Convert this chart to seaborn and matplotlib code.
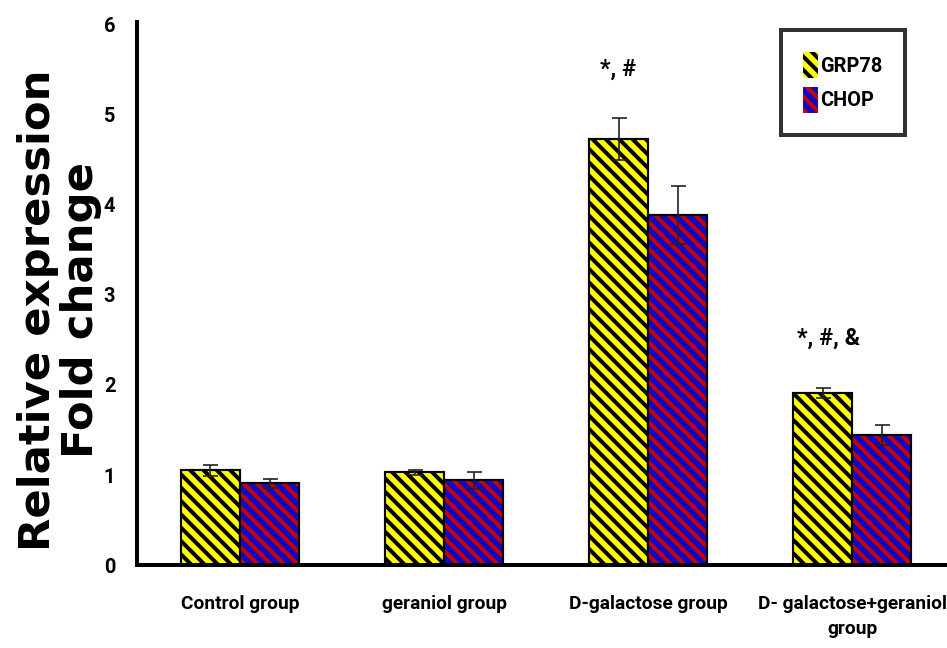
import pandas as pd
import matplotlib
matplotlib.use("Agg")
import matplotlib.pyplot as plt
import seaborn as sns
from matplotlib.patches import Patch
from matplotlib.colors import to_rgba

groups = ["Control group", "geraniol group", "D-galactose group", "D- galactose+geraniol\ngroup"]
genes = ["GRP78", "CHOP"]
grp78_mean = [1.05, 1.03, 4.73, 1.91]
grp78_err = [0.06, 0.03, 0.23, 0.06]
chop_mean = [0.91, 0.94, 3.89, 1.44]
chop_err = [0.05, 0.09, 0.32, 0.11]
marks = ["", "", "*, #", "*, #, &"]

face_colors = {"GRP78": "#FFFF00", "CHOP": "#0A0AC8"}
hatch_colors = {"GRP78": "#000000", "CHOP": "#C80000"}

sns.set_style("white")
plt.rcParams.update({
    "hatch.linewidth": 2.4,
    "text.color": "black",
    "axes.labelcolor": "black",
    "xtick.color": "black",
    "ytick.color": "black",
})
narrow = ["Roboto", "DejaVu Sans"]

df = pd.DataFrame({
    "group": groups * 2,
    "gene": ["GRP78"] * len(groups) + ["CHOP"] * len(groups),
    "value": grp78_mean + chop_mean,
})
errs = grp78_err + chop_err

fig, ax = plt.subplots(figsize=(947 / 120, 648 / 120), dpi=120)
fig.subplots_adjust(left=0.1447, right=1.0, bottom=0.128, top=0.966)

sns.barplot(data=df, x="group", y="value", hue="gene", hue_order=genes,
            order=groups, palette=face_colors, saturation=1, width=0.58, gap=0,
            errorbar=None, legend=False, ax=ax)

bars = ax.patches[:len(df)]
for i, p in enumerate(bars):
    gene = df["gene"].iloc[i]
    p.set_hatch("\\\\\\")
    p.set_edgecolor("black")
    p.set_linewidth(1.3)
    p._hatch_color = to_rgba(hatch_colors[gene])
    cx = p.get_x() + p.get_width() / 2
    ax.errorbar(cx, p.get_height(), yerr=errs[i], fmt="none",
                ecolor="#222222", elinewidth=1.0, capsize=4.5, capthick=1.0, zorder=5)

# significance marks above GRP78 bars
for i, m in enumerate(marks):
    if not m:
        continue
    p = bars[i]
    ax.text(p.get_x() + p.get_width() / 2 + 0.03 * (i - 2), grp78_mean[i] + grp78_err[i] + 0.55, m,
            ha="center", va="center", fontsize=14, fontweight="bold", family=narrow)

ax.set_xlim(-0.505, 3.465)
ax.set_ylim(0, 6.03)
ax.set_yticks(range(0, 7))
ax.set_xlabel("")
ax.set_ylabel("Relative expression\nFold change", fontsize=26, fontweight="bold",
              family="DejaVu Sans", linespacing=1.05)
ax.yaxis.set_label_coords(-0.043, 0.47)
ax.tick_params(axis="x", length=0, labelsize=11.5, pad=18)
ax.tick_params(axis="y", length=0, labelsize=12, pad=13)
for lab in ax.get_xticklabels() + ax.get_yticklabels():
    lab.set_fontweight("bold")
    lab.set_family(narrow)
for lab in ax.get_xticklabels():
    lab.set_linespacing(1.5)

for s in ["top", "right"]:
    ax.spines[s].set_visible(False)
for s in ["left", "bottom"]:
    ax.spines[s].set_linewidth(2.4)
    ax.spines[s].set_color("black")

handles = []
for g in genes:
    h = Patch(facecolor=face_colors[g], edgecolor=hatch_colors[g], hatch="\\\\\\", linewidth=0, label=g)
    handles.append(h)
leg = ax.legend(handles=handles, loc="upper right", bbox_to_anchor=(0.948, 0.985),
                borderaxespad=0, frameon=True, fancybox=False, handlelength=0.75,
                handleheight=1.6, handletextpad=0.15, borderpad=1.1, labelspacing=0.45,
                prop={"family": narrow, "weight": "bold", "size": 12})
leg.get_frame().set_edgecolor("black")
leg.get_frame().set_linewidth(2.4)

fig.savefig("out.png", dpi=120)
